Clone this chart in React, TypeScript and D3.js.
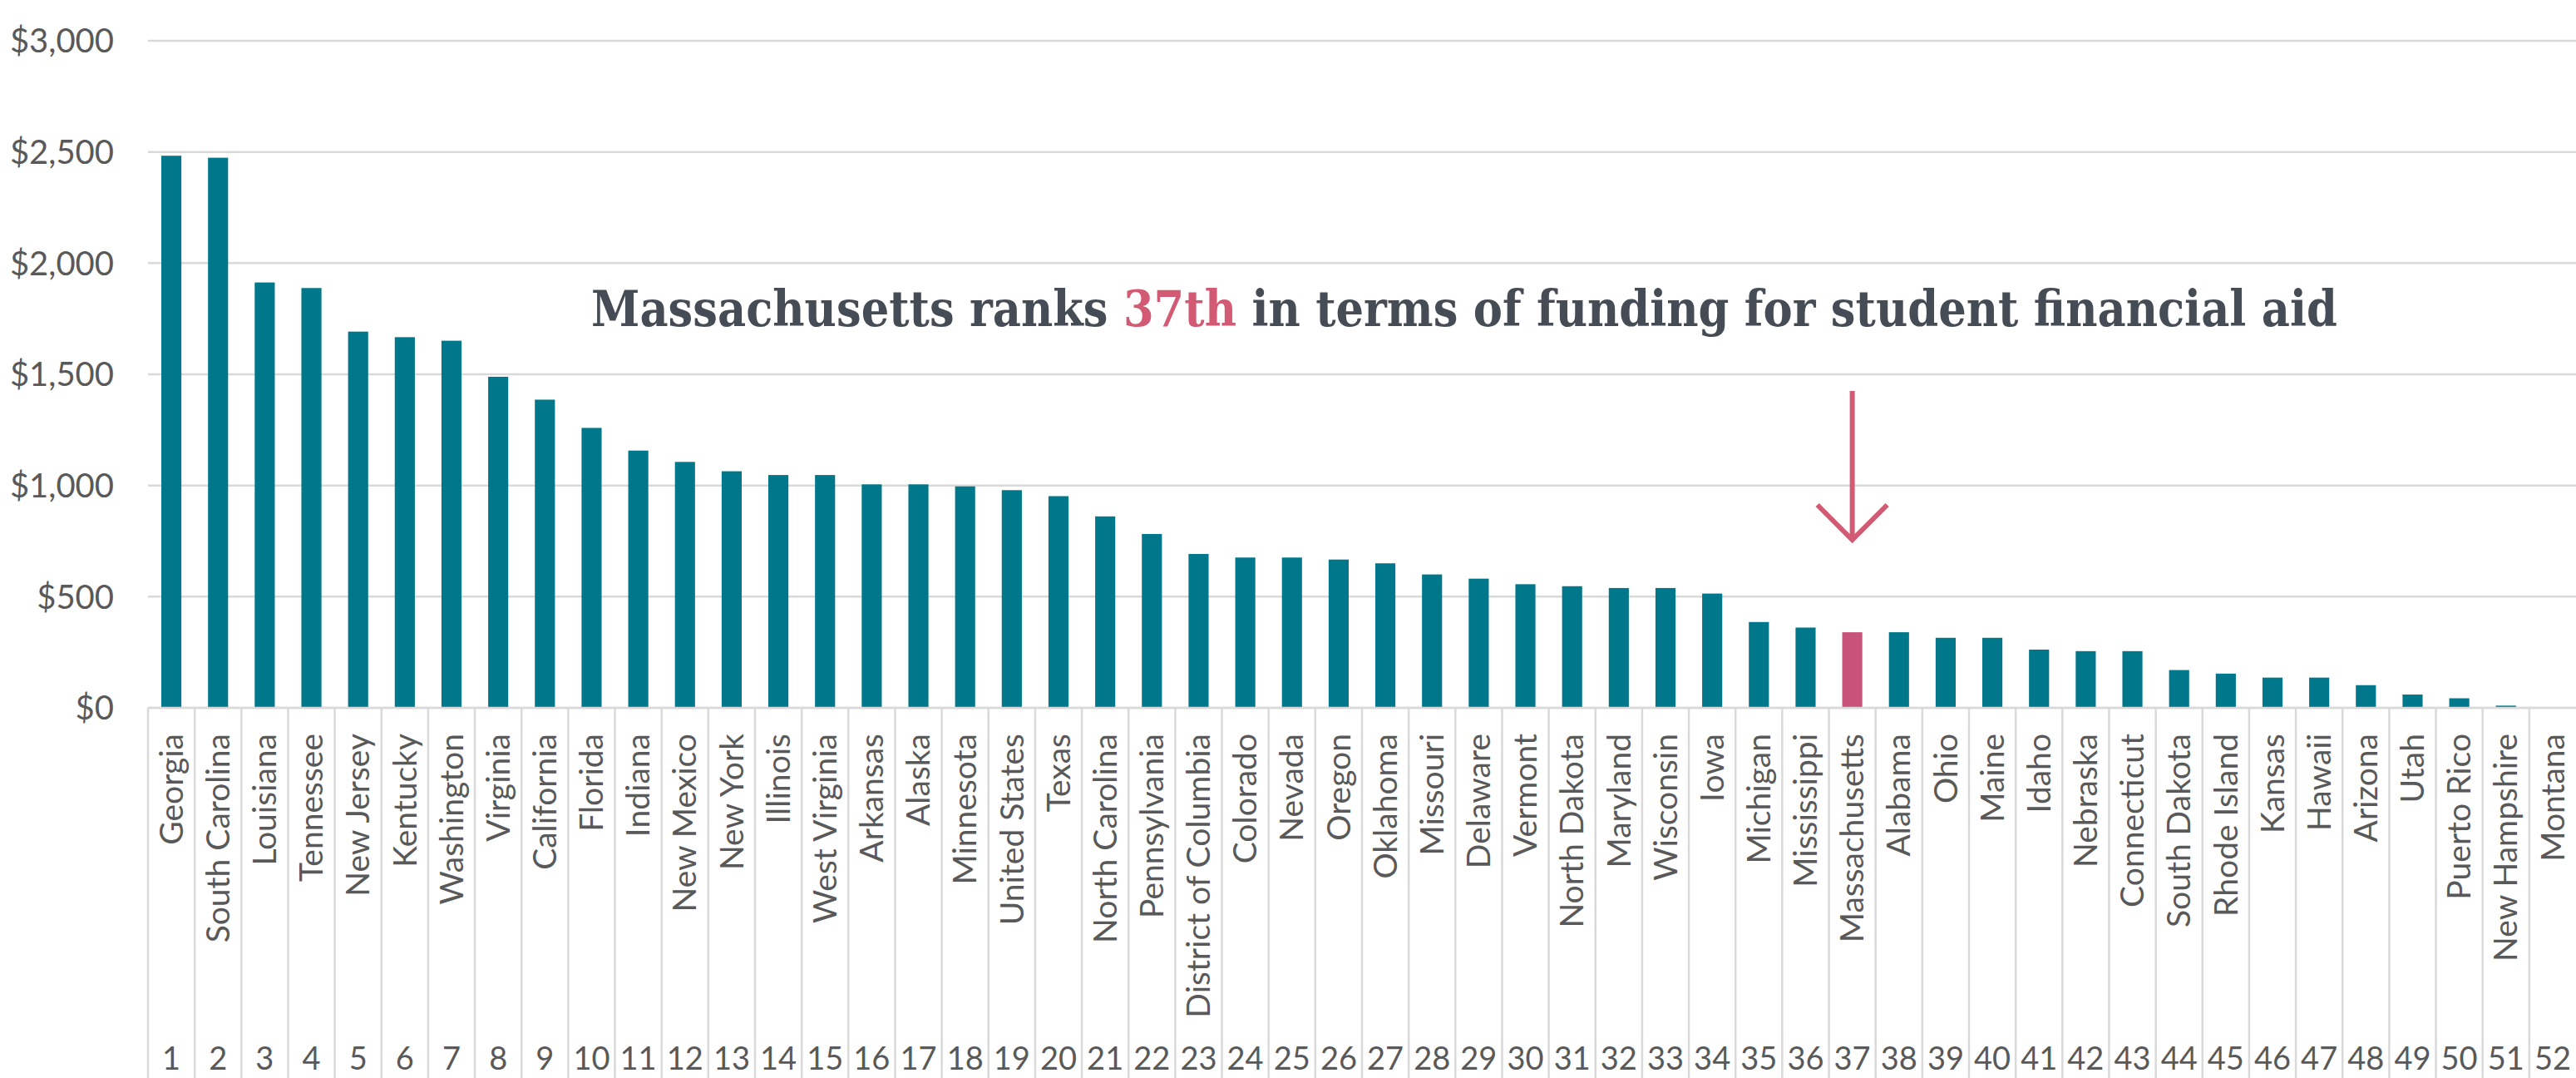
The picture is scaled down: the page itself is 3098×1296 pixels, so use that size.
import React, { useLayoutEffect, useRef, useState } from "react";
import * as d3 from "d3";

const states: string[] = [
  "Georgia", "South Carolina", "Louisiana", "Tennessee", "New Jersey", "Kentucky",
  "Washington", "Virginia", "California", "Florida", "Indiana", "New Mexico",
  "New York", "Illinois", "West Virginia", "Arkansas", "Alaska", "Minnesota",
  "United States", "Texas", "North Carolina", "Pennsylvania", "District of Columbia",
  "Colorado", "Nevada", "Oregon", "Oklahoma", "Missouri", "Delaware", "Vermont",
  "North Dakota", "Maryland", "Wisconsin", "Iowa", "Michigan", "Mississippi",
  "Massachusetts", "Alabama", "Ohio", "Maine", "Idaho", "Nebraska", "Connecticut",
  "South Dakota", "Rhode Island", "Kansas", "Hawaii", "Arizona", "Utah",
  "Puerto Rico", "New Hampshire", "Montana",
];

const aidPerStudent: number[] = [
  2483, 2474, 1913, 1888, 1692, 1667, 1651, 1489, 1386, 1259, 1157, 1106,
  1064, 1047, 1047, 1005, 1005, 996, 979, 952, 861, 782, 692,
  676, 676, 667, 650, 600, 581, 556,
  547, 539, 539, 514, 386, 361,
  340, 340, 315, 315, 262, 255, 255,
  170, 154, 136, 136, 102, 60,
  43, 10, 0,
];

const ranks: number[] = states.map((_, i) => i + 1);
const yTicks: number[] = [0, 500, 1000, 1500, 2000, 2500, 3000];
const highlight = "Massachusetts";
const titleParts: string[] = [
  "Massachusetts ranks ",
  "37th",
  " in terms of funding for student financial aid",
];

const W = 3098;
const H = 1296;
const LEFT = 178;
const BASE = 851;
const TOP = 49;
const TITLE_X = 711;
const TITLE_W = 2100;

const TEAL = "#00778a";
const PINK = "#c9527a";
const ARROW = "#d25a73";
const GRID = "#d9d9d9";
const LABEL = "#595959";
const TITLE = "#464c55";
const SANS = "Lato, 'Open Sans', sans-serif";

export default function App() {
  const x = d3.scaleBand<string>().domain(states).range([LEFT, W]).padding(0);
  const y = d3.scaleLinear().domain([0, 3000]).range([BASE, TOP]);
  const bw = x.bandwidth();
  const barW = bw * 0.43;
  const fmt = (v: number) => "$" + d3.format(",")(v);
  const mx = (x(highlight) as number) + bw / 2;

  const titleRef = useRef<SVGTextElement>(null);
  const [sx, setSx] = useState(0.8);
  useLayoutEffect(() => {
    const el = titleRef.current;
    if (el) {
      const w = el.getComputedTextLength();
      if (w > 0) setSx(TITLE_W / w);
    }
  }, []);

  return (
    <svg
      width={W}
      height={H}
      style={{ position: "absolute", left: 0, top: 0, background: "#fff" }}
    >
      <rect x={0} y={0} width={W} height={H} fill="#fff" />
      {yTicks.map((t) => (
        <line
          key={"g" + t}
          x1={LEFT}
          x2={W}
          y1={y(t)}
          y2={y(t)}
          stroke={GRID}
          strokeWidth={2.5}
        />
      ))}
      {yTicks.map((t) => (
        <text
          key={"yl" + t}
          x={137}
          y={y(t)}
          dy="0.36em"
          textAnchor="end"
          fontFamily={SANS}
          fontSize={40}
          fill={LABEL}
        >
          {fmt(t)}
        </text>
      ))}
      {states.map((s, i) => (
        <rect
          key={"b" + s}
          x={(x(s) as number) + (bw - barW) / 2}
          y={y(aidPerStudent[i])}
          width={barW}
          height={BASE - y(aidPerStudent[i])}
          fill={s === highlight ? PINK : TEAL}
        />
      ))}
      <line x1={LEFT} x2={W} y1={BASE} y2={BASE} stroke={GRID} strokeWidth={2.5} />
      {states.map((s) => (
        <line
          key={"sep" + s}
          x1={x(s) as number}
          x2={x(s) as number}
          y1={BASE}
          y2={H}
          stroke={GRID}
          strokeWidth={2.5}
        />
      ))}
      {states.map((s) => {
        const cx = (x(s) as number) + bw / 2;
        return (
          <text
            key={"sl" + s}
            transform={`translate(${cx},882) rotate(-90)`}
            textAnchor="end"
            dy="0.35em"
            fontFamily={SANS}
            fontSize={39}
            fill={LABEL}
          >
            {s}
          </text>
        );
      })}
      {states.map((s, i) => (
        <text
          key={"rk" + s}
          x={(x(s) as number) + bw / 2}
          y={1286}
          textAnchor="middle"
          fontFamily={SANS}
          fontSize={38}
          fill={LABEL}
        >
          {ranks[i]}
        </text>
      ))}
      <text
        ref={titleRef}
        transform={`translate(${TITLE_X},392) scale(${sx},1)`}
        fontFamily="'DejaVu Serif', serif"
        fontWeight="bold"
        fontSize={60}
        fill={TITLE}
        style={{ whiteSpace: "pre" }}
      >
        <tspan>{titleParts[0]}</tspan>
        <tspan fill={ARROW}>{titleParts[1]}</tspan>
        <tspan>{titleParts[2]}</tspan>
      </text>
      <g stroke={ARROW} strokeWidth={6} fill="none">
        <line x1={mx} x2={mx} y1={470} y2={648} />
        <polyline points={`${mx - 42},607 ${mx},649 ${mx + 42},607`} />
      </g>
    </svg>
  );
}
